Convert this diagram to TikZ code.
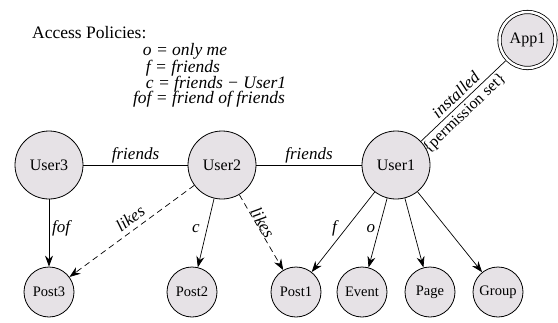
\documentclass[tikz,border=0pt]{standalone}
\usepackage{fontspec}
\setmainfont{Liberation Serif}
\usetikzlibrary{arrows.meta}
\definecolor{nodefill}{HTML}{E6E2E6}
\begin{document}
\begin{tikzpicture}[x=1pt,y=1pt,
  usernode/.style={circle,draw,fill=nodefill,minimum size=68pt,inner sep=0pt,line width=0.8pt,font=\fontsize{16}{18}\selectfont},
  objnode/.style={circle,draw,fill=nodefill,minimum size=50pt,inner sep=0pt,line width=0.8pt,font=\fontsize{14.5}{16}\selectfont},
  appnode/.style={circle,draw,fill=nodefill,double=white,double distance=2.5pt,minimum size=56pt,inner sep=0pt,line width=0.8pt,outer sep=2.1pt,font=\fontsize{16}{18}\selectfont},
  arr/.style={-{Stealth[length=11pt,width=8pt]},line width=0.7pt},
  dsh/.style={dash pattern=on 6pt off 4pt},
  plain/.style={line width=0.7pt},
  lbl/.style={font=\itshape\fontsize{17}{19}\selectfont,inner sep=1pt},
  pol/.style={font=\itshape\fontsize{17.5}{16}\selectfont,inner sep=0pt,anchor=base}]
\useasboundingbox (0,0) rectangle (558,-322);

% legend
\node[font=\fontsize{17.5}{19}\selectfont,inner sep=0pt,anchor=base west] (title) at (32,-38) {Access Policies:};
\node[pol] (pol1) at (185,-55) {o = only me};
\node[pol] (pol2) at (183,-72) {f = friends};
\node[pol] (pol3) at (216,-88) {c = friends − User1};
\node[pol] (pol4) at (209,-103) {fof = friend of friends};

% nodes
\node[usernode] (user3) at (49,-165) {User3};
\node[usernode] (user2) at (222,-165) {User2};
\node[usernode] (user1) at (396,-165) {User1};
\node[appnode] (app1) at (527.5,-40) {App1};

\node[objnode] (post3) at (49,-292) {Post3};
\node[objnode] (post2) at (192,-292) {Post2};
\node[objnode] (post1) at (296,-292) {Post1};
\node[objnode] (event) at (362,-292) {Event};
\node[objnode] (page) at (430,-292) {Page};
\node[objnode] (group) at (498,-292) {Group};

% edges
\draw[plain] (user3) -- node[lbl,above,inner sep=2pt] {friends} (user2);
\draw[plain] (user2) -- node[lbl,above,inner sep=2pt] {friends} (user1);
\draw[arr] (user3) -- node[lbl,pos=0.43,xshift=12pt] {fof} (post3);
\draw[arr,dsh] (user2) -- node[lbl,sloped,above,pos=0.46,inner sep=5pt] {likes} (post3);
\draw[arr] (user2) -- node[lbl,pos=0.44,xshift=-11pt] {c} (post2);
\draw[arr,dsh] (user2) -- node[lbl,sloped,above,pos=0.41,inner sep=0pt] {likes} (post1);
\draw[arr] (user1) -- node[lbl,pos=0.45,xshift=-12pt] {f} (post1);
\draw[arr] (user1) -- node[lbl,pos=0.445,xshift=-8pt] {o} (event);
\draw[arr] (user1) -- (page);
\draw[arr] (user1) -- (group);
\draw[plain] (user1) -- node[lbl,sloped,above,pos=0.49,inner sep=3.6pt] {installed}
  node[sloped,below,pos=0.435,inner sep=2.5pt,font=\fontsize{16}{18}\selectfont] {\{permission set\}} (app1);
\end{tikzpicture}
\end{document}
